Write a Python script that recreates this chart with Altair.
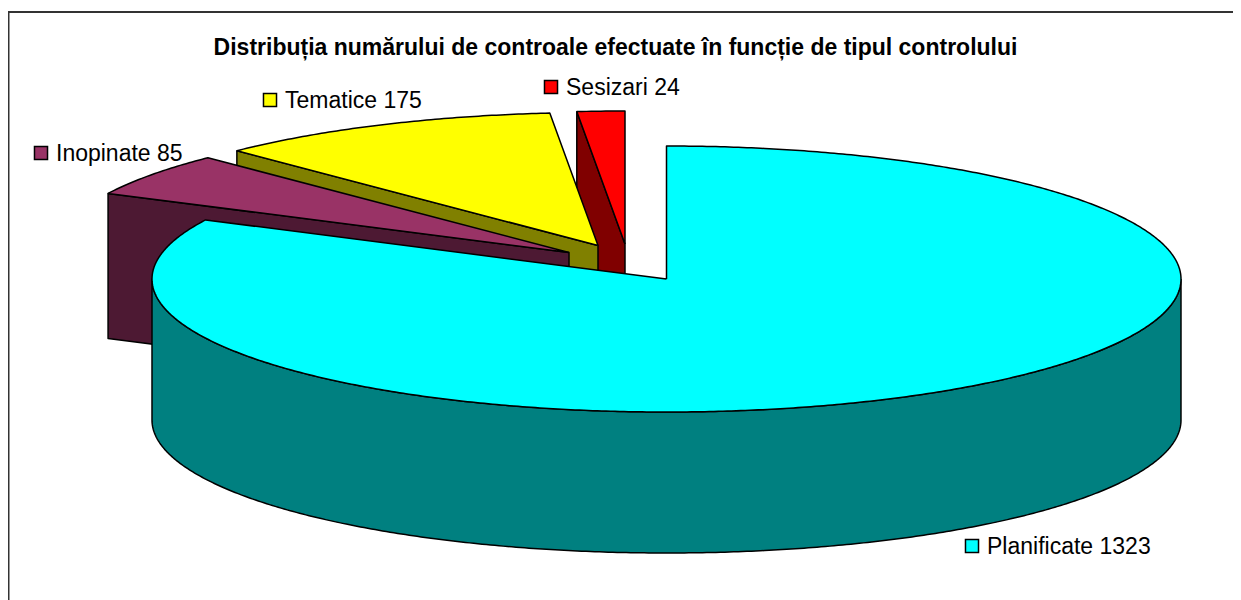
import math
import altair as alt
import pandas as pd

# chart values
categories = ["Planificate", "Inopinate", "Tematice", "Sesizari"]
values = [1323, 85, 175, 24]
title_text = "Distribuția numărului de controale efectuate în funcție de tipul controlului"

# styling and layout (page pixels)
top_colors = {"Planificate": "#00FFFF", "Inopinate": "#993366", "Tematice": "#FFFF00", "Sesizari": "#FF0000"}
side_colors = {"Planificate": "#008080", "Inopinate": "#4D1933", "Tematice": "#808000", "Sesizari": "#800000"}
apex = {"Planificate": (666.5, 279), "Inopinate": (569, 252.5), "Tematice": (598, 245.5), "Sesizari": (625, 244)}
marker_pos = {"Planificate": (972, 546), "Inopinate": (41, 153), "Tematice": (270, 100), "Sesizari": (551, 87)}
RX, RY = 514.5, 133
DEPTH_MAIN, DEPTH_DETACHED = 141, 145
FONT = "Liberation Sans"

total = sum(values)
spans = {}
start = 0.0
for c, v in zip(categories, values):
    spans[c] = (start, start + 360.0 * v / total)
    start = spans[c][1]


def rim(center, deg, drop=0):
    a = math.radians(deg)
    return (center[0] + RX * math.sin(a), center[1] - RY * math.cos(a) + drop)


def arc(center, a0, a1, drop=0, step=0.5):
    n = max(2, int(abs(a1 - a0) / step))
    return [rim(center, a0 + (a1 - a0) * i / n, drop) for i in range(n + 1)]


def polygon(points, color):
    pts = list(points) + [points[0]]
    df = pd.DataFrame({"x": [p[0] for p in pts], "y": [p[1] for p in pts], "i": range(len(pts))})
    return alt.Chart(df).mark_line(
        fill=color, stroke="black", strokeWidth=1.5, strokeJoin="round", clip=False
    ).encode(
        x=alt.X("x:Q", scale=X_SCALE, axis=None),
        y=alt.Y("y:Q", scale=Y_SCALE, axis=None),
        order=alt.Order("i:Q"),
    )


X_SCALE = alt.Scale(domain=[8, 1233], nice=False, zero=False)
Y_SCALE = alt.Scale(domain=[600, 8], nice=False, zero=False)

layers = []

# frame: only the top and left edges fall inside the picture
frame = pd.DataFrame({"x": [8.5, 8.5], "y": [600, 12], "i": [0, 1]})
frame_top = pd.DataFrame({"x": [8, 1233], "y": [12, 12], "i": [0, 1]})
for f in (frame, frame_top):
    layers.append(alt.Chart(f).mark_line(color="#333333", strokeWidth=2).encode(
        x=alt.X("x:Q", scale=X_SCALE, axis=None),
        y=alt.Y("y:Q", scale=Y_SCALE, axis=None),
        order=alt.Order("i:Q"),
    ))

# back-to-front: detached slices, then the big slice
for c in ["Sesizari", "Tematice", "Inopinate"]:
    a0, a1 = spans[c]
    ap = apex[c]
    cut = [rim(ap, a0), ap, (ap[0], ap[1] + DEPTH_DETACHED), rim(ap, a0, DEPTH_DETACHED)]
    layers.append(polygon(cut, side_colors[c]))
    layers.append(polygon([ap] + arc(ap, a0, a1), top_colors[c]))

c = "Planificate"
a0, a1 = spans[c]
ap = apex[c]
layers.append(polygon(arc(ap, 90, 270) + arc(ap, 270, 90, DEPTH_MAIN), side_colors[c]))
layers.append(polygon([ap] + arc(ap, a0, a1), top_colors[c]))

# direct labels with colour keys
labels = pd.DataFrame({
    "cat": categories,
    "label": [f"{c} {v}" for c, v in zip(categories, values)],
    "mx": [marker_pos[c][0] for c in categories],
    "my": [marker_pos[c][1] for c in categories],
})
labels["tx"] = labels["mx"] + 15
labels["ty"] = labels["my"] + 1
labels["fill"] = [top_colors[c] for c in categories]

layers.append(alt.Chart(labels).mark_square(size=170, stroke="black", strokeWidth=1.5, opacity=1).encode(
    x=alt.X("mx:Q", scale=X_SCALE, axis=None),
    y=alt.Y("my:Q", scale=Y_SCALE, axis=None),
    fill=alt.Fill("fill:N", scale=None),
))
layers.append(alt.Chart(labels).mark_text(
    align="left", baseline="middle", font=FONT, fontSize=23, color="black"
).encode(
    x=alt.X("tx:Q", scale=X_SCALE, axis=None),
    y=alt.Y("ty:Q", scale=Y_SCALE, axis=None),
    text="label:N",
))

chart = alt.layer(*layers).properties(
    width=1225,
    height=592,
    padding=0,
    autosize=alt.AutoSizeParams(type="none"),
    title=alt.TitleParams(
        text=title_text, font=FONT, fontSize=23, fontWeight="bold", color="black",
        anchor="middle", dx=-5, dy=52, offset=0,
    ),
).configure_view(stroke=None)

chart.save("out.html", embed_options={"renderer": "svg", "actions": False})
